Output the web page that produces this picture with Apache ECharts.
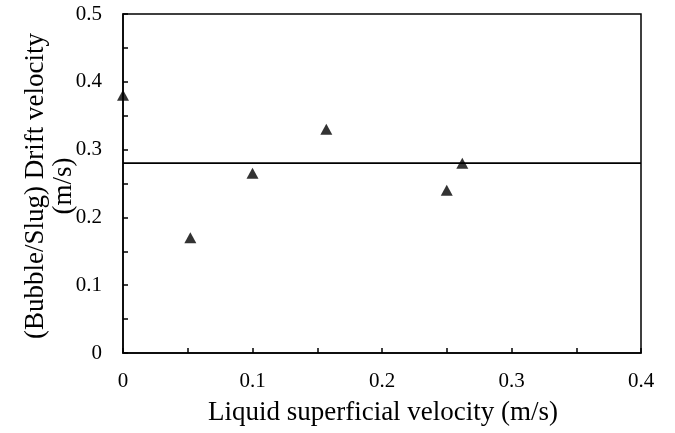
<!DOCTYPE html>
<html><head><meta charset="utf-8">
<script src="https://cdn.jsdelivr.net/npm/echarts@6/dist/echarts.min.js"></script>
<style>html,body{margin:0;padding:0;background:#fff}#c{width:675px;height:433px}</style>
</head><body><div id="c"></div>
<script>
const xValues = [0, 0.052, 0.1, 0.157, 0.25, 0.262];
const yValues = [0.38, 0.17, 0.265, 0.33, 0.24, 0.28];
const meanLineX = [0, 0.4];
const meanLineY = [0.28, 0.28];
const xTitle = 'Liquid superficial velocity (m/s)';
const yTitle1 = '(Bubble/Slug) Drift velocity';
const yTitle2 = '(m/s)';

const font = '"Liberation Serif", "Times New Roman", serif';
const chart = echarts.init(document.getElementById('c'));
const axisCommon = {
  axisLine: {show: true, onZero: false, lineStyle: {color: '#000', width: 1.5}},
  axisTick: {show: true, inside: true, length: 5, lineStyle: {color: '#000', width: 1.5}},
  minorTick: {show: true, splitNumber: 2, length: 5, lineStyle: {color: '#000', width: 1.5}},
  splitLine: {show: false},
  axisLabel: {color: '#000', fontFamily: font, fontSize: 21}
};
chart.setOption({
  animation: false,
  grid: {left: 123, right: 34, top: 14, bottom: 80, show: true, borderColor: '#000', borderWidth: 1.5},
  xAxis: Object.assign({type: 'value', min: 0, max: 0.4, interval: 0.1}, axisCommon, {
    axisLabel: Object.assign({}, axisCommon.axisLabel, {margin: 18, formatter: v => String(+v.toFixed(1))})
  }),
  yAxis: Object.assign({type: 'value', min: 0, max: 0.5, interval: 0.1}, axisCommon, {
    axisLabel: Object.assign({}, axisCommon.axisLabel, {margin: 21, formatter: v => String(+v.toFixed(1))})
  }),
  graphic: [
    {type: 'text', x: 383, y: 413, style: {text: xTitle, font: '27px ' + font, fill: '#000', align: 'center', verticalAlign: 'middle'}},
    {type: 'text', x: 36, y: 186, rotation: Math.PI / 2, style: {text: yTitle1, font: '27px ' + font, fill: '#000', align: 'center', verticalAlign: 'middle'}},
    {type: 'text', x: 64, y: 186, rotation: Math.PI / 2, style: {text: yTitle2, font: '27px ' + font, fill: '#000', align: 'center', verticalAlign: 'middle'}}
  ],
  series: [
    {type: 'line', data: meanLineX.map((x, i) => [x, meanLineY[i]]), symbol: 'none',
     lineStyle: {color: '#000', width: 1.8}, silent: true},
    {type: 'scatter', data: xValues.map((x, i) => [x, yValues[i]]), symbol: 'triangle', symbolSize: [12, 11],
     itemStyle: {color: '#000'}, clip: false}
  ]
});
</script></body></html>
